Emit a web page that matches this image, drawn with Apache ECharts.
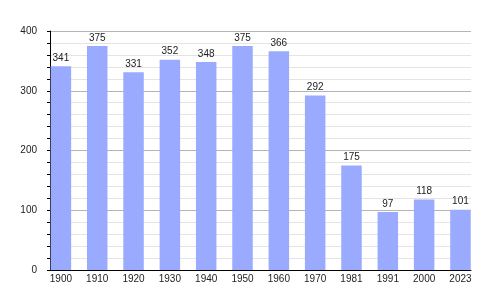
<!DOCTYPE html>
<html><head><meta charset="utf-8">
<script src="https://cdn.jsdelivr.net/npm/echarts@6/dist/echarts.min.js"></script>
<style>html,body{margin:0;padding:0;background:#fff}#c{width:500px;height:300px}</style>
</head><body><div id="c"></div>
<script>
const years = ['1900','1910','1920','1930','1940','1950','1960','1970','1981','1991','2000','2023'];
const population = [341, 375, 331, 352, 348, 375, 366, 292, 175, 97, 118, 101];
const yTicks = [0, 100, 200, 300, 400];

const FONT = 'Liberation Sans, Arial, sans-serif';
const chart = echarts.init(document.getElementById('c'), null, {renderer: 'canvas'});
const idx = years.map((_, i) => i);
chart.setOption({
  animation: false,
  grid: {left: 50, right: 29, top: 31, bottom: 30, containLabel: false},
  xAxis: {
    type: 'value', min: -0.3, max: 11.29,
    axisLine: {show: true, onZero: false, lineStyle: {color: '#000', width: 1}},
    axisTick: {show: false},
    splitLine: {show: false},
    axisLabel: {
      customValues: idx, color: '#222', fontSize: 10, fontFamily: FONT, margin: 4,
      formatter: v => years[Math.round(v)] || ''
    }
  },
  yAxis: {
    type: 'value', min: yTicks[0], max: yTicks[yTicks.length - 1], interval: 100,
    axisLine: {show: true, onZero: false, lineStyle: {color: '#000', width: 1}},
    axisTick: {show: true, length: 3, lineStyle: {color: '#000'}},
    minorTick: {show: true, splitNumber: 5, length: 3, lineStyle: {color: '#000'}},
    splitLine: {show: true, lineStyle: {color: '#b4b4b4', width: 1}},
    minorSplitLine: {show: true, lineStyle: {color: '#e4e4e4', width: 1}},
    axisLabel: {color: '#222', fontSize: 10, fontFamily: FONT, margin: 13}
  },
  series: [{
    type: 'bar',
    data: population.map((v, i) => [i, v]),
    barWidth: 20.5,
    itemStyle: {color: '#9aabff'},
    label: {show: true, position: 'top', distance: 3, color: '#222', fontSize: 10, fontFamily: FONT,
      formatter: p => p.value[1]}
  }]
});
</script></body></html>
